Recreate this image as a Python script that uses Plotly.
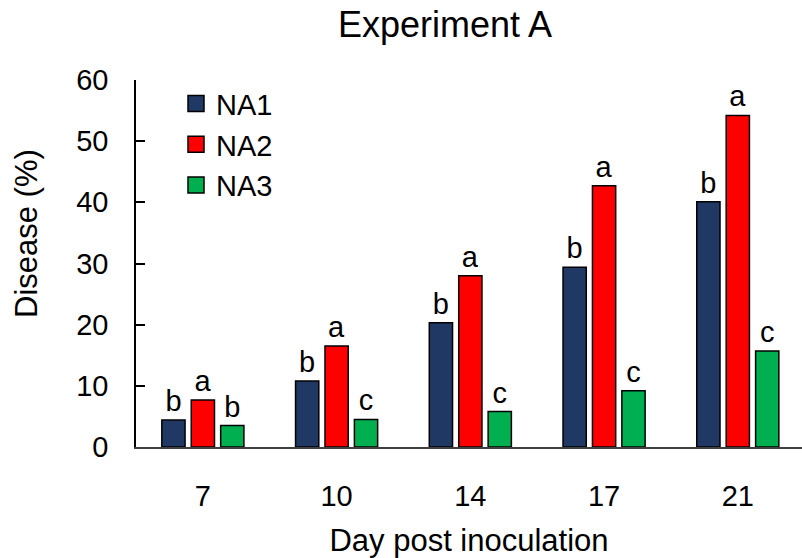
import plotly.graph_objects as go

days = ["7", "10", "14", "17", "21"]
series_names = ["NA1", "NA2", "NA3"]
na1 = [4.4, 10.8, 20.3, 29.4, 40.1]
na2 = [7.7, 16.5, 28.0, 42.7, 54.2]
na3 = [3.5, 4.5, 5.8, 9.2, 15.7]
letters_na1 = ["b", "b", "b", "b", "b"]
letters_na2 = ["a", "a", "a", "a", "a"]
letters_na3 = ["b", "c", "c", "c", "c"]
colors = ["#203864", "#FF0000", "#00B050"]

FONT = "Liberation Sans, Arial, sans-serif"
W, H = 802, 558
L, R, T, B = 136, 0, 80, 111

fig = go.Figure()
for name, vals, labs, col in zip(series_names, [na1, na2, na3],
                                 [letters_na1, letters_na2, letters_na3], colors):
    fig.add_trace(go.Bar(
        x=days, y=vals, name=name, text=labs, textposition="outside",
        textfont=dict(size=29, color="black", family=FONT),
        constraintext="none", cliponaxis=False,
        marker=dict(color=col, line=dict(color="black", width=1.5)),
        showlegend=False, hoverinfo="skip",
    ))
    # legend entry drawn as a square marker
    fig.add_trace(go.Scatter(
        x=[None], y=[None], mode="markers", name=name, legendgroup=name,
        marker=dict(symbol="square", size=16, color=col,
                    line=dict(color="black", width=1.5)),
    ))

plot_w = W - L - R
fig.update_layout(
    width=W, height=H,
    margin=dict(l=L, r=R, t=T, b=B, pad=0),
    paper_bgcolor="white", plot_bgcolor="white",
    font=dict(family=FONT, color="black", size=29),
    barmode="group", bargap=0.34, bargroupgap=0.21,
    title=dict(text="Experiment A", x=445 / W, xref="container", xanchor="center",
               y=1 - 24 / H, yref="container", yanchor="middle",
               font=dict(size=36, family=FONT, color="black")),
    legend=dict(x=(176 - L) / plot_w, xanchor="left", y=1.005, yanchor="top",
                font=dict(size=29, family=FONT, color="black"),
                bgcolor="rgba(0,0,0,0)", tracegroupgap=0, itemwidth=30),
    showlegend=True,
    annotations=[dict(text="Disease (%)", textangle=-90, x=26 / W, y=1 - 234 / H,
                      xref="paper", yref="paper", showarrow=False,
                      xanchor="center", yanchor="middle",
                      font=dict(size=31, family=FONT, color="black"))],
)
# annotation coordinates above are in container fractions; convert to paper
ann = fig.layout.annotations[0]
ann.x = (26 - L) / plot_w
ann.y = (H - B - 234) / (H - T - B)

fig.update_xaxes(
    type="category", range=[-0.5, 4.48],
    showline=True, linecolor="#404040", linewidth=1.5,
    ticks="", showgrid=False, zeroline=False,
    tickfont=dict(size=29, family=FONT, color="black"),
    ticklabelstandoff=22,
    title=dict(text="Day post inoculation", font=dict(size=31, family=FONT, color="black"),
               standoff=26),
)
fig.update_yaxes(
    range=[0, 60], dtick=10,
    showline=True, linecolor="black", linewidth=1.5,
    ticks="inside", ticklen=9, tickwidth=1.5, tickcolor="black",
    showgrid=False, zeroline=False,
    tickfont=dict(size=29, family=FONT, color="black"),
    ticklabelstandoff=20,
)

fig.write_html("out.html")
